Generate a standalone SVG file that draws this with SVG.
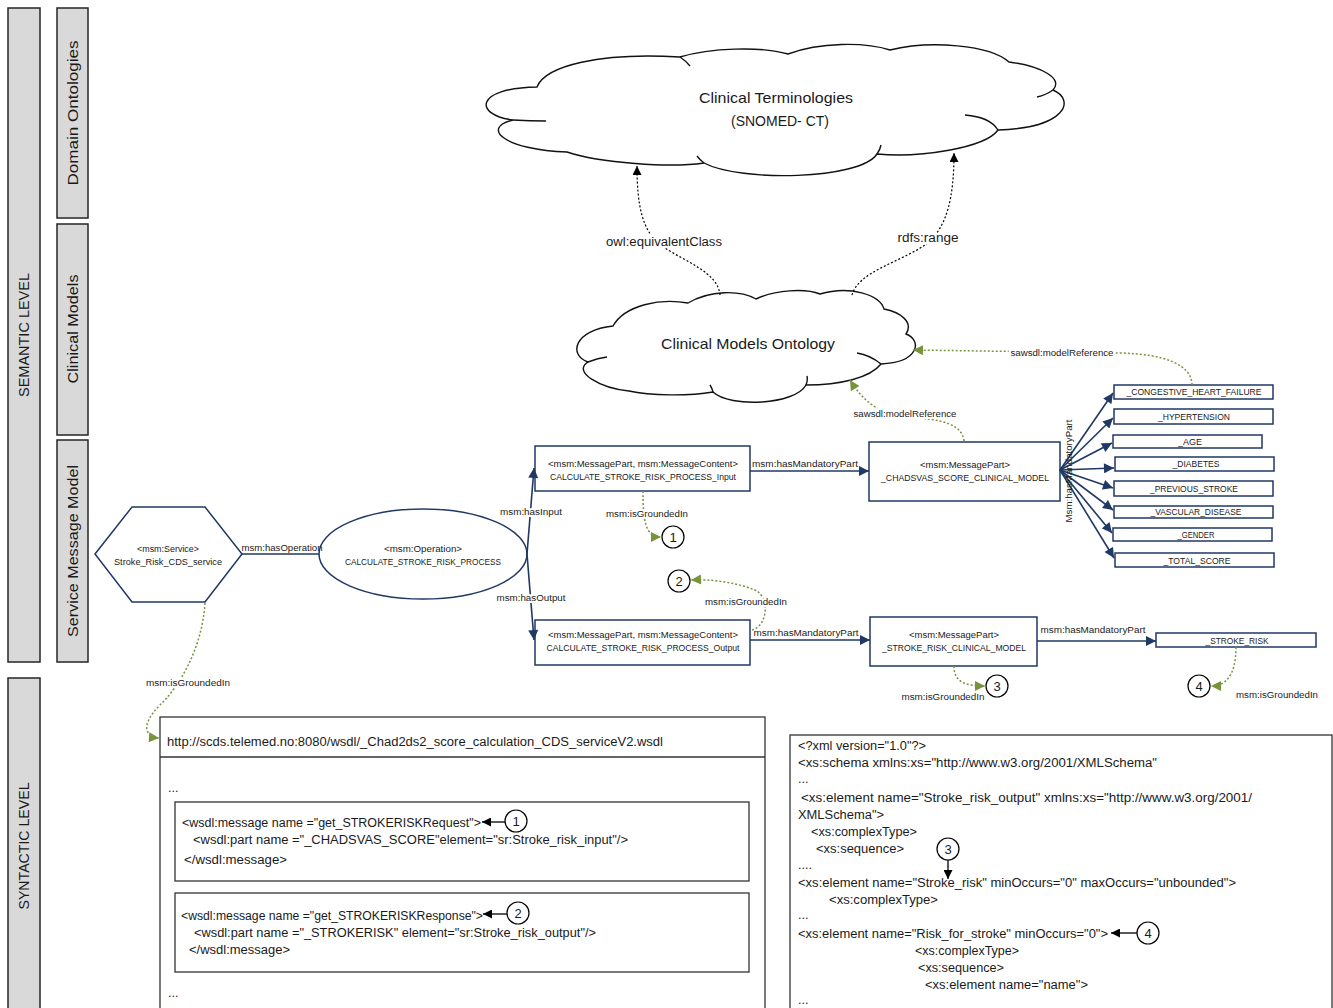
<svg xmlns="http://www.w3.org/2000/svg" width="1333" height="1008" viewBox="0 0 1333 1008">
<style>
text{font-family:"Liberation Sans",Arial,sans-serif;fill:#1a1a1a}
.bar{fill:#d9d9d9;stroke:#262626;stroke-width:1.5}
.box{fill:#fff;stroke:#1f3864;stroke-width:1.5}
.cbox{fill:#fff;stroke:#333;stroke-width:1.3}
.cloud{fill:#fff;stroke:#111;stroke-width:1.4}
.stub{fill:none;stroke:#111;stroke-width:1.4}
.nv{stroke:#1f3864;stroke-width:1.6;fill:none}
.gr{stroke:#77933c;stroke-width:1.5;fill:none;stroke-dasharray:2 2}
.bk{stroke:#000;stroke-width:1.2;fill:none;stroke-dasharray:2 2}
.ar{stroke:#000;stroke-width:1.3;fill:none}
.num{fill:#fff;stroke:#000;stroke-width:1.2}
.m{text-anchor:middle}
.lbl{font-size:15px}
.sm{font-size:9px}
.xs{font-size:8.5px}
.cd{font-size:12.5px}
.nt{font-size:13px;text-anchor:middle}
.halo{stroke:#fff;stroke-width:4;paint-order:stroke}
</style>
<defs>
<marker id="mn" viewBox="0 0 10 10" refX="10" refY="5" markerWidth="11" markerHeight="10" markerUnits="userSpaceOnUse" orient="auto"><path d="M0,0L10,5L0,10z" fill="#1f3864"/></marker>
<marker id="mg" viewBox="0 0 10 10" refX="10" refY="5" markerWidth="11" markerHeight="10" markerUnits="userSpaceOnUse" orient="auto"><path d="M0,0L10,5L0,10z" fill="#77933c"/></marker>
<marker id="mb" viewBox="0 0 10 10" refX="10" refY="5" markerWidth="10" markerHeight="9" markerUnits="userSpaceOnUse" orient="auto"><path d="M0,0L10,5L0,10z" fill="#000"/></marker>
</defs>

<g id="levels">
<rect class="bar" x="8" y="8" width="32" height="654"/>
<text class="lbl" x="29" y="335" text-anchor="middle" font-size="13" transform="rotate(-90 29 335)" textLength="124" lengthAdjust="spacingAndGlyphs">SEMANTIC LEVEL</text>
<rect class="bar" x="57" y="8" width="31" height="210"/>
<text class="lbl" x="78" y="113" text-anchor="middle" transform="rotate(-90 78 113)" textLength="145" lengthAdjust="spacingAndGlyphs">Domain Ontologies</text>
<rect class="bar" x="57" y="224" width="31" height="211"/>
<text class="lbl" x="78" y="329" text-anchor="middle" transform="rotate(-90 78 329)" textLength="109" lengthAdjust="spacingAndGlyphs">Clinical Models</text>
<rect class="bar" x="57" y="440" width="31" height="222"/>
<text class="lbl" x="78" y="551" text-anchor="middle" transform="rotate(-90 78 551)" textLength="172" lengthAdjust="spacingAndGlyphs">Service Message Model</text>
<rect class="bar" x="8" y="678" width="32" height="340"/>
<text class="lbl" x="29" y="846" text-anchor="middle" font-size="13" transform="rotate(-90 29 846)" textLength="127" lengthAdjust="spacingAndGlyphs">SYNTACTIC LEVEL</text>
</g>

<g id="clinical-terminologies">
<path class="cloud" d="M537,87 C545,66 600,52 680,57 C710,48 760,46 788,54 C820,42 865,42 890,50 C930,40 990,45 1009,62 C1040,66 1064,78 1053,90 C1076,100 1066,128 998,130 C985,148 920,158 877,154 C860,180 740,182 704,163 C670,168 600,163 567,152 C505,150 480,128 513,120 C474,115 474,88 537,87 Z"/>
<path class="stub" d="M513,120 Q530,121 546,121 M680,57 Q686,61 690,66 M1053,90 Q1046,95 1037,97 M998,130 Q990,117 965,115 M877,154 Q880,150 881,145 M704,163 Q700,160 697,156"/>
<text class="m" x="776" y="103" font-size="15" textLength="154" lengthAdjust="spacingAndGlyphs">Clinical Terminologies</text>
<text class="m" x="780" y="126" font-size="15" textLength="98" lengthAdjust="spacingAndGlyphs">(SNOMED- CT)</text>
</g>

<g id="clinical-models-ontology">
<path class="cloud" d="M613,326 C625,305 660,298 688,303 C710,290 740,290 756,299 C775,290 805,288 820,294 C850,285 880,295 884,309 C900,312 914,322 906,334 C922,340 920,362 881,364 C870,378 840,385 806,385 C795,405 730,408 713,392 C690,396 650,396 629,391 C600,388 572,372 588,362 C568,355 574,330 613,326 Z"/>
<path class="stub" d="M588,362 Q598,358 607,357 M881,364 Q870,355 857,353 M806,385 Q808,380 807,376 M713,392 Q712,388 710,385"/>
<text class="m" x="748" y="349" font-size="15" textLength="174" lengthAdjust="spacingAndGlyphs">Clinical Models Ontology</text>
</g>

<g id="service">
<polygon class="box" points="95,554 132,507 205,507 242,554 205,602 132,602"/>
<text class="m xs" x="168" y="552" textLength="62" lengthAdjust="spacingAndGlyphs">&lt;msm:Service&gt;</text>
<text class="m xs" x="168" y="565" font-size="9" textLength="108" lengthAdjust="spacingAndGlyphs">Stroke_Risk_CDS_service</text>
</g>

<g id="operation">
<ellipse class="box" cx="423" cy="554" rx="104" ry="45"/>
<text class="m xs" x="423" y="552" textLength="78" lengthAdjust="spacingAndGlyphs">&lt;msm:Operation&gt;</text>
<text class="m xs" x="423" y="565" textLength="156" lengthAdjust="spacingAndGlyphs">CALCULATE_STROKE_RISK_PROCESS</text>
</g>

<g id="input">
<rect class="box" x="535" y="446" width="215" height="45"/>
<text class="m xs" x="643" y="467" textLength="190" lengthAdjust="spacingAndGlyphs">&lt;msm:MessagePart, msm:MessageContent&gt;</text>
<text class="m xs" x="643" y="480" textLength="186" lengthAdjust="spacingAndGlyphs">CALCULATE_STROKE_RISK_PROCESS_Input</text>
</g>

<g id="output">
<rect class="box" x="535" y="620" width="215" height="45"/>
<text class="m xs" x="643" y="638" textLength="190" lengthAdjust="spacingAndGlyphs">&lt;msm:MessagePart, msm:MessageContent&gt;</text>
<text class="m xs" x="643" y="651" textLength="193" lengthAdjust="spacingAndGlyphs">CALCULATE_STROKE_RISK_PROCESS_Output</text>
</g>

<g id="chadsvas">
<rect class="box" x="869" y="442" width="191" height="59"/>
<text class="m xs" x="965" y="468" textLength="90" lengthAdjust="spacingAndGlyphs">&lt;msm:MessagePart&gt;</text>
<text class="m xs" x="965" y="481" textLength="168" lengthAdjust="spacingAndGlyphs">_CHADSVAS_SCORE_CLINICAL_MODEL</text>
</g>

<g id="stroke-risk-model">
<rect class="box" x="870" y="617" width="167" height="49"/>
<text class="m xs" x="954" y="638" textLength="90" lengthAdjust="spacingAndGlyphs">&lt;msm:MessagePart&gt;</text>
<text class="m xs" x="954" y="651" textLength="144" lengthAdjust="spacingAndGlyphs">_STROKE_RISK_CLINICAL_MODEL</text>
</g>

<g id="parts">
<rect class="box" x="1114" y="385" width="159" height="14"/>
<text class="m xs" x="1194" y="395" textLength="135" lengthAdjust="spacingAndGlyphs">_CONGESTIVE_HEART_FAILURE</text>
<rect class="box" x="1114" y="409" width="159" height="15"/>
<text class="m xs" x="1194" y="420" textLength="72" lengthAdjust="spacingAndGlyphs">_HYPERTENSION</text>
<rect class="box" x="1113" y="435" width="149" height="13"/>
<text class="m xs" x="1190" y="445" textLength="24" lengthAdjust="spacingAndGlyphs">_AGE</text>
<rect class="box" x="1115" y="457" width="159" height="14"/>
<text class="m xs" x="1196" y="467" textLength="47" lengthAdjust="spacingAndGlyphs">_DIABETES</text>
<rect class="box" x="1114" y="481" width="159" height="15"/>
<text class="m xs" x="1194" y="492" textLength="88" lengthAdjust="spacingAndGlyphs">_PREVIOUS_STROKE</text>
<rect class="box" x="1114" y="506" width="159" height="12"/>
<text class="m xs" x="1196" y="515" textLength="91" lengthAdjust="spacingAndGlyphs">_VASCULAR_DISEASE</text>
<rect class="box" x="1113" y="528" width="159" height="13"/>
<text class="m xs" x="1196" y="538" textLength="37" lengthAdjust="spacingAndGlyphs">_GENDER</text>
<rect class="box" x="1115" y="553" width="159" height="14"/>
<text class="m xs" x="1197" y="564" textLength="67" lengthAdjust="spacingAndGlyphs">_TOTAL_SCORE</text>
</g>

<g id="stroke-risk">
<rect class="box" x="1156" y="633" width="160" height="14"/>
<text class="m xs" x="1237" y="644" textLength="63" lengthAdjust="spacingAndGlyphs">_STROKE_RISK</text>
</g>

<g id="markers">
<circle class="num" cx="673" cy="537" r="11"/><text class="nt" x="673" y="542">1</text>
<circle class="num" cx="679" cy="581" r="11"/><text class="nt" x="679" y="586">2</text>
<circle class="num" cx="997" cy="686" r="11"/><text class="nt" x="997" y="691">3</text>
<circle class="num" cx="1199" cy="686" r="11"/><text class="nt" x="1199" y="691">4</text>
</g>

<g id="connectors">
<path class="nv" d="M242,554 L319,554"/>
<path class="nv" marker-end="url(#mn)" d="M527,554 L534,468"/>
<path class="nv" marker-end="url(#mn)" d="M527,554 L534,640"/>
<path class="nv" marker-end="url(#mn)" d="M750,471 L869,471"/>
<path class="nv" marker-end="url(#mn)" d="M750,640 L870,640"/>
<path class="nv" marker-end="url(#mn)" d="M1037,641 L1156,641"/>
<path class="nv" marker-end="url(#mn)" d="M1060,470 L1113,393"/>
<path class="nv" marker-end="url(#mn)" d="M1060,470 L1113,418"/>
<path class="nv" marker-end="url(#mn)" d="M1060,470 L1112,443"/>
<path class="nv" marker-end="url(#mn)" d="M1060,470 L1114,468"/>
<path class="nv" marker-end="url(#mn)" d="M1060,470 L1113,488"/>
<path class="nv" marker-end="url(#mn)" d="M1060,470 L1113,510"/>
<path class="nv" marker-end="url(#mn)" d="M1060,470 L1112,533"/>
<path class="nv" marker-end="url(#mn)" d="M1060,470 L1114,558"/>

<path class="bk" marker-end="url(#mb)" d="M720,295 C718,272 685,262 662,246 C642,232 637,205 637,166"/>
<path class="bk" marker-end="url(#mb)" d="M852,295 C858,272 900,262 925,245 C948,228 954,195 954,153"/>

<path class="gr" marker-end="url(#mg)" d="M1192,385 C1192,365 1165,354 1120,353 L913,350"/>
<path class="gr" marker-end="url(#mg)" d="M964,441 C962,425 945,419 905,417 C880,415 862,400 850,380"/>
<path class="gr" marker-end="url(#mg)" d="M205,603 C202,650 178,688 160,705 C140,725 145,737 159,738"/>
<path class="gr" marker-end="url(#mg)" d="M643,491 C643,520 645,537 661,537"/>
<path class="gr" marker-end="url(#mg)" d="M752,630 C768,626 770,597 755,590 C735,582 710,579 691,580"/>
<path class="gr" marker-end="url(#mg)" d="M954,666 C954,682 965,686 985,686"/>
<path class="gr" marker-end="url(#mg)" d="M1236,647 C1236,675 1226,686 1211,686"/>

<text class="m halo" x="664" y="246" font-size="12" textLength="116" lengthAdjust="spacingAndGlyphs">owl:equivalentClass</text>
<text class="m halo" x="928" y="242" font-size="12" textLength="61" lengthAdjust="spacingAndGlyphs">rdfs:range</text>
<text class="m xs halo" x="1062" y="356" textLength="103" lengthAdjust="spacingAndGlyphs">sawsdl:modelReference</text>
<text class="m xs halo" x="905" y="417" textLength="103" lengthAdjust="spacingAndGlyphs">sawsdl:modelReference</text>
<text class="m sm" x="282" y="551" textLength="81" lengthAdjust="spacingAndGlyphs">msm:hasOperation</text>
<text class="m xs halo" x="531" y="515" textLength="62" lengthAdjust="spacingAndGlyphs">msm:hasInput</text>
<text class="m xs halo" x="531" y="601" textLength="69" lengthAdjust="spacingAndGlyphs">msm:hasOutput</text>
<text class="m xs" x="805" y="467" textLength="106" lengthAdjust="spacingAndGlyphs">msm:hasMandatoryPart</text>
<text class="m xs" x="806" y="636" textLength="105" lengthAdjust="spacingAndGlyphs">msm:hasMandatoryPart</text>
<text class="m xs" x="1093" y="633" textLength="105" lengthAdjust="spacingAndGlyphs">msm:hasMandatoryPart</text>
<text class="m xs" x="1072" y="471" text-anchor="middle" transform="rotate(-90 1072 471)" textLength="103" lengthAdjust="spacingAndGlyphs">Msm:hasMandatoryPart</text>
<text class="m xs halo" x="647" y="517" textLength="82" lengthAdjust="spacingAndGlyphs">msm:isGroundedIn</text>
<text class="m xs halo" x="746" y="605" textLength="82" lengthAdjust="spacingAndGlyphs">msm:isGroundedIn</text>
<text class="m xs" x="943" y="700" textLength="83" lengthAdjust="spacingAndGlyphs">msm:isGroundedIn</text>
<text class="m xs" x="1277" y="698" textLength="82" lengthAdjust="spacingAndGlyphs">msm:isGroundedIn</text>
<text class="m xs halo" x="188" y="686" textLength="84" lengthAdjust="spacingAndGlyphs">msm:isGroundedIn</text>
</g>

<g id="wsdl">
<rect class="cbox" x="160" y="717" width="605" height="300"/>
<line class="cbox" x1="160" y1="757" x2="765" y2="757"/>
<text class="cd" x="167" y="746" textLength="496" lengthAdjust="spacingAndGlyphs">http://scds.telemed.no:8080/wsdl/_Chad2ds2_score_calculation_CDS_serviceV2.wsdl</text>
<text class="cd" x="168" y="792">...</text>
<rect class="cbox" x="175" y="802" width="574" height="79"/>
<text class="cd" x="182" y="827" textLength="299" lengthAdjust="spacingAndGlyphs">&lt;wsdl:message name ="get_STROKERISKRequest"&gt;</text>
<text class="cd" x="193" y="844" textLength="435" lengthAdjust="spacingAndGlyphs">&lt;wsdl:part name ="_CHADSVAS_SCORE"element="sr:Stroke_risk_input"/&gt;</text>
<text class="cd" x="184" y="864" textLength="103" lengthAdjust="spacingAndGlyphs">&lt;/wsdl:message&gt;</text>
<circle class="num" cx="516" cy="821" r="11"/><text class="nt" x="516" y="826">1</text>
<path class="ar" marker-end="url(#mb)" d="M505,822 L482,822"/>
<rect class="cbox" x="175" y="893" width="574" height="79"/>
<text class="cd" x="181" y="920" textLength="302" lengthAdjust="spacingAndGlyphs">&lt;wsdl:message name ="get_STROKERISKResponse"&gt;</text>
<text class="cd" x="194" y="937" textLength="402" lengthAdjust="spacingAndGlyphs">&lt;wsdl:part name ="_STROKERISK" element="sr:Stroke_risk_output"/&gt;</text>
<text class="cd" x="189" y="954" textLength="101" lengthAdjust="spacingAndGlyphs">&lt;/wsdl:message&gt;</text>
<circle class="num" cx="518" cy="913" r="11"/><text class="nt" x="518" y="918">2</text>
<path class="ar" marker-end="url(#mb)" d="M507,914 L483,914"/>
<text class="cd" x="168" y="997">...</text>
</g>

<g id="xsd">
<rect class="cbox" x="790" y="735" width="542" height="290"/>
<text class="cd" x="798" y="750" textLength="128" lengthAdjust="spacingAndGlyphs">&lt;?xml version="1.0"?&gt;</text>
<text class="cd" x="798" y="767" textLength="359" lengthAdjust="spacingAndGlyphs">&lt;xs:schema xmlns:xs="http://www.w3.org/2001/XMLSchema"</text>
<text class="cd" x="798" y="783">...</text>
<text class="cd" x="801" y="802" textLength="451" lengthAdjust="spacingAndGlyphs">&lt;xs:element name="Stroke_risk_output" xmlns:xs="http://www.w3.org/2001/</text>
<text class="cd" x="798" y="819" textLength="86" lengthAdjust="spacingAndGlyphs">XMLSchema"&gt;</text>
<text class="cd" x="811" y="836" textLength="106" lengthAdjust="spacingAndGlyphs">&lt;xs:complexType&gt;</text>
<text class="cd" x="816" y="853" textLength="88" lengthAdjust="spacingAndGlyphs">&lt;xs:sequence&gt;</text>
<text class="cd" x="798" y="869">....</text>
<text class="cd" x="798" y="887" textLength="438" lengthAdjust="spacingAndGlyphs">&lt;xs:element name="Stroke_risk" minOccurs="0" maxOccurs="unbounded"&gt;</text>
<text class="cd" x="829" y="904" textLength="109" lengthAdjust="spacingAndGlyphs">&lt;xs:complexType&gt;</text>
<text class="cd" x="798" y="919">...</text>
<text class="cd" x="798" y="938" textLength="310" lengthAdjust="spacingAndGlyphs">&lt;xs:element name="Risk_for_stroke" minOccurs="0"&gt;</text>
<text class="cd" x="915" y="955" textLength="104" lengthAdjust="spacingAndGlyphs">&lt;xs:complexType&gt;</text>
<text class="cd" x="918" y="972" textLength="86" lengthAdjust="spacingAndGlyphs">&lt;xs:sequence&gt;</text>
<text class="cd" x="925" y="989" textLength="163" lengthAdjust="spacingAndGlyphs">&lt;xs:element name="name"&gt;</text>
<text class="cd" x="798" y="1004">...</text>
<circle class="num" cx="948" cy="849" r="11"/><text class="nt" x="948" y="854">3</text>
<path class="ar" marker-end="url(#mb)" d="M948,860 L948,879"/>
<circle class="num" cx="1148" cy="933" r="11"/><text class="nt" x="1148" y="938">4</text>
<path class="ar" marker-end="url(#mb)" d="M1137,933 L1111,933"/>
</g>
</svg>
